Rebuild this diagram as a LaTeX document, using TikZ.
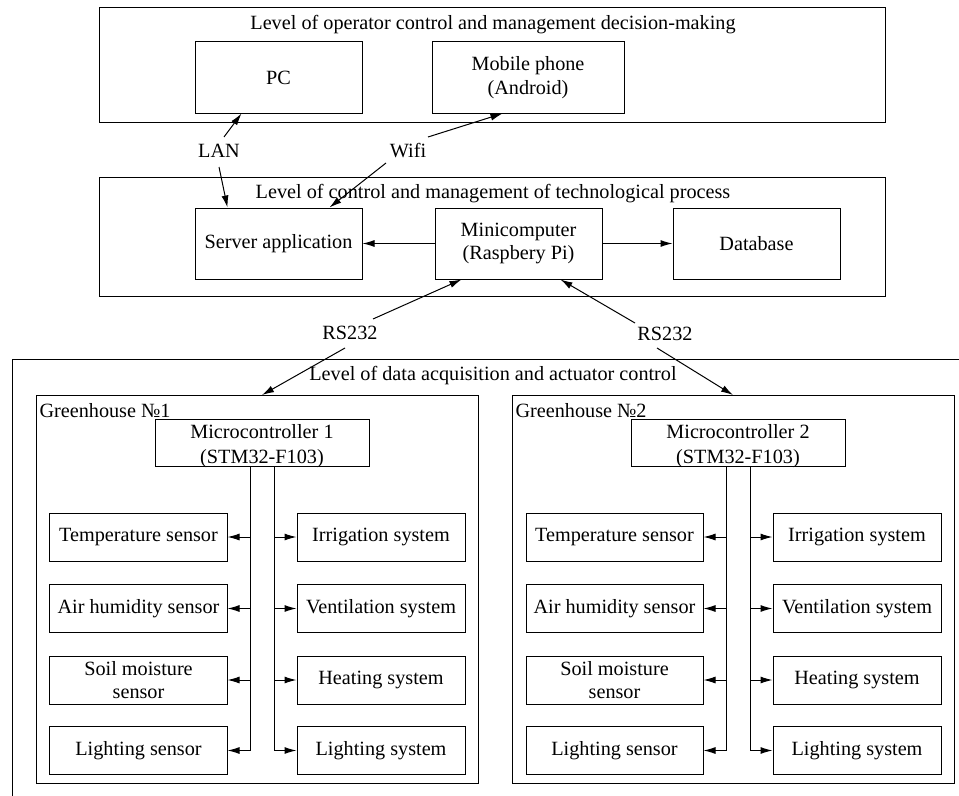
\documentclass[tikz,border=0pt]{standalone}
\usepackage{fontspec}
\setmainfont{Liberation Serif}
\usetikzlibrary{arrows.meta,calc}
\begin{document}
\begin{tikzpicture}[x=1bp,y=-1bp,line width=1bp,
  every node/.style={font=\fontsize{20.3}{23.5}\selectfont},
  box/.style={draw,rectangle,inner sep=0pt,align=center},
  lbl/.style={inner sep=1bp},
  arr/.style={-{Latex[length=12bp,width=7bp]}}]
\clip (0,0) rectangle (959,796);
% level 1
\node[box,minimum width=785bp,minimum height=114bp] (lvl1) at (492.5,65) {};
\node[lbl] (t1) at (493,25) {Level of operator control and management decision-making};
\node[box,minimum width=167bp,minimum height=71bp] (pc) at (278.5,77.5) {PC};
\node[box,minimum width=192bp,minimum height=71bp] (mob) at (528,77.5) {Mobile phone\\(Android)};
% level 2
\node[box,minimum width=785bp,minimum height=119bp] (lvl2) at (492.5,236.5) {};
\node[lbl] (t2) at (493,194) {Level of control and management of technological process};
\node[box,minimum width=167bp,minimum height=71bp] (srv) at (278.5,243.5) {Server application};
\node[box,minimum width=167bp,minimum height=71bp] (mini) at (518.5,243.5) {Minicomputer\\(Raspbery Pi)};
\node[box,minimum width=167bp,minimum height=71bp] (db) at (756.5,243.5) {Database};
\draw[arr] (mini.west) -- (srv.east);
\draw[arr] (mini.east) -- (db.west);
% LAN / Wifi
\node[lbl] (lan) at (219,151) {LAN};
\node[lbl] (wifi) at (408,151) {Wifi};
\coordinate (lanU) at (224,137);
\coordinate (lanD) at (219,167);
\coordinate (wifiU) at (428,137);
\coordinate (wifiD) at (386,163);
\draw[arr] (lanU) -- ($(pc.south west)+(47,0)$);
\draw[arr] (lanD) -- ($(srv.north west)+(33,0)$);
\draw[arr] (wifiU) -- ($(mob.south west)+(71,0)$);
\draw[arr] (wifiD) -- ($(srv.north west)+(135,0)$);
% level 3
\node[box,minimum width=1000bp,minimum height=500bp,anchor=north west] (lvl3) at (12,359) {};
\node[lbl] (t3) at (493,376) {Level of data acquisition and actuator control};
% RS232
\node[lbl] (rs1) at (350,333) {RS232};
\node[lbl] (rs2) at (665,334) {RS232};
\coordinate (rs1U) at (373,319);
\coordinate (rs1D) at (345,348);
\coordinate (rs2U) at (635,323);
\coordinate (rs2D) at (657,348);
% greenhouses
\foreach \g/\dx in {1/0,2/476}{
  \node[box,minimum width=442bp,minimum height=388bp,anchor=north west] (gh\g) at (36+\dx,395) {};
  \node[lbl,anchor=west] (ghl\g) at (38+\dx,411) {Greenhouse №\g};
  \node[box,minimum width=214bp,minimum height=47bp] (mc\g) at (262+\dx,442.5) {};
  \node[inner sep=0pt,align=center,font=\fontsize{20.3}{25}\selectfont] (mct\g) at ($(mc\g.center)+(0,4)$) {Microcontroller \g\\(STM32-F103)};
  \node[box,minimum width=177bp,minimum height=48bp] (ts\g) at (138.5+\dx,537) {Temperature sensor};
  \node[box,minimum width=177bp,minimum height=48bp] (ah\g) at (138.5+\dx,608.5) {Air humidity sensor};
  \node[box,minimum width=177bp,minimum height=48bp] (sm\g) at (138.5+\dx,680) {Soil moisture\\sensor};
  \node[box,minimum width=177bp,minimum height=48bp] (ls\g) at (138.5+\dx,750.5) {Lighting sensor};
  \node[box,minimum width=168bp,minimum height=48bp] (ir\g) at (381+\dx,537) {Irrigation system};
  \node[box,minimum width=168bp,minimum height=48bp] (ve\g) at (381+\dx,608.5) {Ventilation system};
  \node[box,minimum width=168bp,minimum height=48bp] (he\g) at (381+\dx,680) {Heating system};
  \node[box,minimum width=168bp,minimum height=48bp] (lsy\g) at (381+\dx,750.5) {Lighting system};
  \coordinate (bl\g) at (250+\dx,466);
  \coordinate (br\g) at (274+\dx,466);
  \draw (bl\g) -- (bl\g |- ls\g.east);
  \draw (br\g) -- (br\g |- lsy\g.west);
  \foreach \n in {ts,ah,sm,ls}{\draw[arr] (bl\g |- \n\g.east) -- (\n\g.east);}
  \foreach \n in {ir,ve,he,lsy}{\draw[arr] (br\g |- \n\g.west) -- (\n\g.west);}
}
\draw[arr] (rs1U) -- ($(mini.south west)+(27,0)$);
\draw[arr] (rs1D) -- ($(gh1.north west)+(226,0)$);
\draw[arr] (rs2U) -- ($(mini.south west)+(126,0)$);
\draw[arr] (rs2D) -- ($(gh2.north west)+(221,0)$);
\end{tikzpicture}
\end{document}
